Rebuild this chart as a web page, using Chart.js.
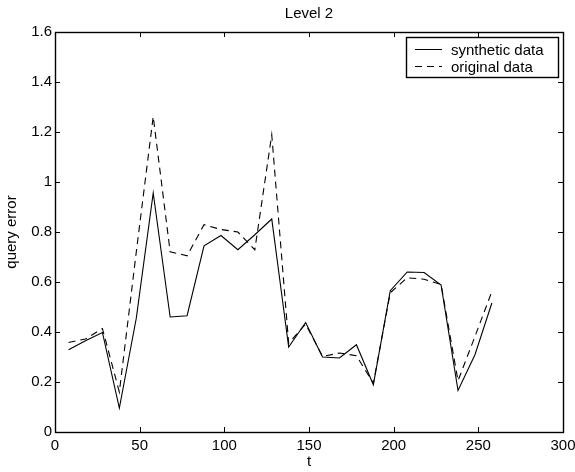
<!DOCTYPE html>
<html>
<head>
<meta charset="utf-8">
<title>Level 2</title>
<script src="https://cdn.jsdelivr.net/npm/chart.js@4.4.1/dist/chart.umd.min.js"></script>
<style>
  html, body { margin: 0; padding: 0; background: #fff; }
  #wrap { width: 575px; height: 472px; position: relative; }
</style>
</head>
<body>
<div id="wrap"><canvas id="errChart"></canvas></div>
<script>
// sample times
const tValues = [8, 18, 28, 38, 48, 58, 68, 78, 88, 98, 108, 118, 128,
                 138, 148, 158, 168, 178, 188, 198, 208, 218, 228, 238, 248, 258];

// query error per sample
const syntheticError = [0.329, 0.365, 0.398, 0.096, 0.455, 0.956, 0.460, 0.465, 0.745, 0.786, 0.729, 0.789, 0.852,
                        0.340, 0.438, 0.300, 0.296, 0.349, 0.189, 0.565, 0.640, 0.638, 0.588, 0.166, 0.309, 0.516];
const originalError  = [0.358, 0.372, 0.414, 0.160, 0.720, 1.262, 0.721, 0.705, 0.829, 0.810, 0.800, 0.729, 1.189,
                        0.355, 0.432, 0.302, 0.316, 0.305, 0.195, 0.557, 0.617, 0.611, 0.590, 0.205, 0.382, 0.562];

const xTicks = [0, 50, 100, 150, 200, 250, 300];
const xTickLabels = ['0', '50', '100', '150', '200', '250', '300'];
const yTicks = [0, 0.2, 0.4, 0.6, 0.8, 1, 1.2, 1.4, 1.6];
const yTickLabels = ['0', '0.2', '0.4', '0.6', '0.8', '1', '1.2', '1.4', '1.6'];

const FONT = "'Liberation Sans', Arial, Helvetica, sans-serif";
const FONT_SIZE = 15;
Chart.defaults.font.family = FONT;
Chart.defaults.font.size = FONT_SIZE;
Chart.defaults.color = '#000';

function toPoints(ys) {
    return tValues.map((t, i) => ({ x: t, y: ys[i] }));
}

// box around the plot with inward tick marks on all four sides
const frameTicks = {
    id: 'frameTicks',
    afterDraw(chart) {
        const ctx = chart.ctx;
        const a = chart.chartArea;
        const xs = chart.scales.x, ys = chart.scales.y;
        const len = 5;
        ctx.save();
        ctx.strokeStyle = '#000';
        ctx.lineWidth = 1;
        ctx.beginPath();
        xTicks.forEach(v => {
            const px = Math.round(xs.getPixelForValue(v)) + 0.5;
            ctx.moveTo(px, a.bottom); ctx.lineTo(px, a.bottom - len);
            ctx.moveTo(px, a.top); ctx.lineTo(px, a.top + len);
        });
        yTicks.forEach(v => {
            const py = Math.round(ys.getPixelForValue(v)) + 0.5;
            ctx.moveTo(a.left, py); ctx.lineTo(a.left + len, py);
            ctx.moveTo(a.right, py); ctx.lineTo(a.right - len, py);
        });
        ctx.stroke();
        ctx.lineWidth = 1.4;
        ctx.strokeRect(Math.round(a.left) + 0.5, Math.round(a.top) + 0.5,
                       Math.round(a.right - a.left), Math.round(a.bottom - a.top));
        ctx.restore();
    }
};

// framed legend in the upper right corner
const boxLegend = {
    id: 'boxLegend',
    afterDraw(chart) {
        const ctx = chart.ctx;
        const a = chart.chartArea;
        const w = 152, h = 40;
        const x0 = a.right - 5 - w, y0 = a.top + 5;
        ctx.save();
        ctx.fillStyle = '#fff';
        ctx.fillRect(x0, y0, w, h);
        ctx.strokeStyle = '#000';
        ctx.lineWidth = 1.4;
        ctx.strokeRect(Math.round(x0) + 0.5, Math.round(y0) + 0.5, w, h);
        ctx.font = FONT_SIZE + 'px ' + FONT;
        ctx.fillStyle = '#000';
        ctx.textBaseline = 'middle';
        chart.data.datasets.forEach((ds, i) => {
            const cy = Math.round(y0 + 12 + i * 17) + 0.5;
            ctx.lineWidth = 1;
            ctx.setLineDash(ds.borderDash || []);
            ctx.beginPath();
            ctx.moveTo(x0 + 9, cy);
            ctx.lineTo(x0 + 36, cy);
            ctx.stroke();
            ctx.setLineDash([]);
            ctx.fillText(ds.label, x0 + 45, cy + 1);
        });
        ctx.restore();
    }
};

new Chart(document.getElementById('errChart'), {
    type: 'line',
    data: {
        datasets: [
            {
                label: 'synthetic data',
                data: toPoints(syntheticError),
                borderColor: '#000',
                borderWidth: 1.1,
                pointRadius: 0,
                tension: 0,
                fill: false
            },
            {
                label: 'original data',
                data: toPoints(originalError),
                borderColor: '#000',
                borderWidth: 1.1,
                borderDash: [7, 5],
                pointRadius: 0,
                tension: 0,
                fill: false
            }
        ]
    },
    options: {
        responsive: true,
        maintainAspectRatio: false,
        animation: false,
        layout: { padding: { left: 0, right: 0, top: 0, bottom: 0 } },
        plugins: {
            legend: { display: false },
            tooltip: { enabled: false },
            title: {
                display: true,
                fullSize: false,
                text: 'Level 2',
                color: '#000',
                font: { size: FONT_SIZE, weight: 'normal', lineHeight: 1.2 },
                padding: { top: 5, bottom: 9 }
            }
        },
        scales: {
            x: {
                type: 'linear',
                min: 0,
                max: 300,
                afterBuildTicks: s => { s.ticks = xTicks.map(v => ({ value: v })); },
                afterFit: s => { s.height = 40; s.paddingLeft = 0; s.paddingRight = 12; },
                grid: { display: false, drawTicks: false },
                border: { display: false },
                ticks: {
                    padding: 5,
                    maxRotation: 0,
                    callback: (v) => xTickLabels[xTicks.indexOf(v)]
                },
                title: { display: true, text: 't', color: '#000', padding: { top: 0, bottom: 1 } }
            },
            y: {
                type: 'linear',
                min: 0,
                max: 1.6,
                afterBuildTicks: s => { s.ticks = yTicks.map(v => ({ value: v })); },
                afterFit: s => { s.width = 55; },
                grid: { display: false, drawTicks: false },
                border: { display: false },
                ticks: {
                    padding: 3,
                    callback: (v) => yTickLabels[yTicks.indexOf(v)]
                },
                title: { display: true, text: 'query error', color: '#000', padding: { top: 3, bottom: 0 } }
            }
        }
    },
    plugins: [frameTicks, boxLegend]
});
</script>
</body>
</html>
